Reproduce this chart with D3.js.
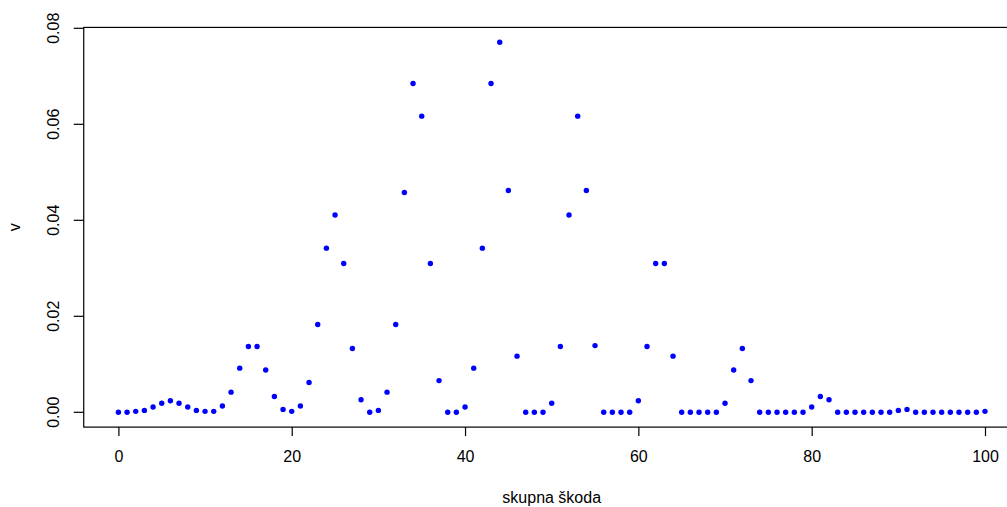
<!DOCTYPE html>
<html>
<head>
<meta charset="utf-8">
<script src="https://cdn.jsdelivr.net/npm/d3@7"></script>
<style>
  body { margin: 0; background: #fff; }
  text { font-family: "Liberation Sans", Arial, sans-serif; }
</style>
</head>
<body>
<div class="canvas"></div>
<script>
const WIDTH = 1007;
const HEIGHT = 507;

// data: v for each skupna škoda 0..100
const skoda = d3.range(0, 101);
const v = [
  0, 0, 0.0002, 0.0004, 0.0011, 0.0019, 0.0024, 0.0019, 0.0011, 0.0004,
  0.0002, 0.0002, 0.0013, 0.0042, 0.0092, 0.0137, 0.0137, 0.0088, 0.0033, 0.0006,
  0.0002, 0.0013, 0.0062, 0.0183, 0.0342, 0.0411, 0.0310, 0.0133, 0.0026, 0,
  0.0004, 0.0042, 0.0183, 0.0458, 0.0685, 0.0617, 0.0310, 0.0066, 0, 0,
  0.0011, 0.0092, 0.0342, 0.0685, 0.0771, 0.0462, 0.0117, 0, 0, 0,
  0.0019, 0.0137, 0.0411, 0.0617, 0.0462, 0.0139, 0, 0, 0, 0,
  0.0024, 0.0137, 0.0310, 0.0310, 0.0117, 0, 0, 0, 0, 0,
  0.0019, 0.0088, 0.0133, 0.0066, 0, 0, 0, 0, 0, 0,
  0.0011, 0.0033, 0.0026, 0, 0, 0, 0, 0, 0, 0,
  0.0004, 0.0006, 0, 0, 0, 0, 0, 0, 0, 0,
  0.0002
];
const xTicks = [0, 20, 40, 60, 80, 100];
const yTicks = [0, 0.02, 0.04, 0.06, 0.08];

const data = skoda.map((s, i) => ({ s, v: v[i] }));

const svg = d3.select('.canvas')
  .append('svg')
    .attr('width', WIDTH)
    .attr('height', HEIGHT);

// scales (R pads the range by 4% on each side)
const x = d3.scaleLinear()
  .domain([0, 100])
  .range([118.4, 985]);

const y = d3.scaleLinear()
  .domain([0, 0.08])
  .range([412.3, 28.3]);

const box = {
  left: x(-4), right: x(104),
  top: y(0.0771 * 1.04), bottom: y(-0.0771 * 0.04)
};

// plot box
svg.append('rect')
  .attr('x', box.left)
  .attr('y', box.top)
  .attr('width', box.right - box.left)
  .attr('height', box.bottom - box.top)
  .attr('fill', 'none')
  .attr('stroke', '#000')
  .attr('stroke-width', 1.2);

// axes
const xAxis = d3.axisBottom(x)
  .tickValues(xTicks)
  .tickSize(9)
  .tickPadding(15)
  .tickFormat(d3.format('d'));

const yAxis = d3.axisLeft(y)
  .tickValues(yTicks)
  .tickSize(10)
  .tickFormat(d3.format('.2f'));

const xAxisGroup = svg.append('g')
  .attr('transform', `translate(0, ${box.bottom})`)
  .call(xAxis);

const yAxisGroup = svg.append('g')
  .attr('transform', `translate(${box.left}, 0)`)
  .call(yAxis);

[xAxisGroup, yAxisGroup].forEach(g => {
  g.select('.domain').remove();
  g.selectAll('line').attr('stroke', '#000').attr('stroke-width', 1.2);
  g.selectAll('text')
    .attr('fill', '#000')
    .style('font-size', '16px')
    .style('font-family', '"Liberation Sans", Arial, sans-serif');
});

// rotate y tick labels like R's default las=0
yAxisGroup.selectAll('text')
  .attr('x', null)
  .attr('dy', null)
  .attr('text-anchor', 'middle')
  .attr('transform', d => `translate(-25, ${y(d)}) rotate(-90)`)
  .attr('y', 0);
yAxisGroup.selectAll('.tick')
  .attr('transform', null);
yAxisGroup.selectAll('.tick line')
  .attr('transform', d => `translate(0, ${y(d)})`);

// axis titles
svg.append('text')
  .attr('x', (x(0) + x(100)) / 2)
  .attr('y', 503)
  .attr('text-anchor', 'middle')
  .style('font-size', '16px')
  .text('skupna škoda');

svg.append('text')
  .attr('transform', `translate(20, ${(y(0) + y(0.0771)) / 2}) rotate(-90)`)
  .attr('text-anchor', 'middle')
  .style('font-size', '16px')
  .text('v');

// points
svg.append('g')
  .selectAll('circle')
  .data(data)
  .enter().append('circle')
    .attr('cx', d => x(d.s))
    .attr('cy', d => y(d.v))
    .attr('r', 2.7)
    .attr('fill', '#0000ff');
</script>
</body>
</html>
